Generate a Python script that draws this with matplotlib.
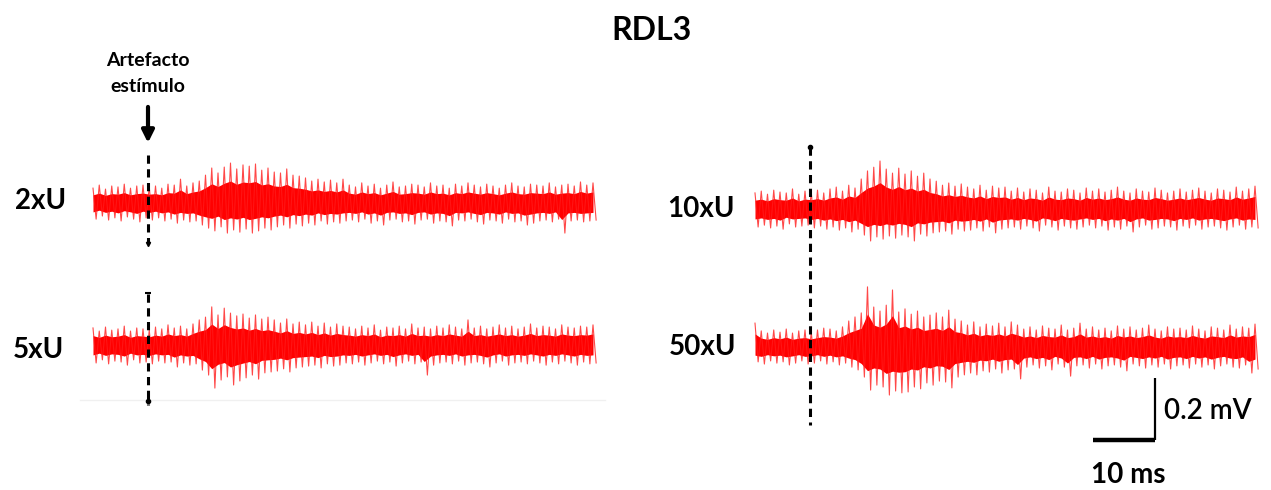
import numpy as np
import matplotlib as mpl
mpl.use('Agg')
import matplotlib.pyplot as plt

plt.rcParams['font.family'] = ['Lato', 'DejaVu Sans']

# peak (up) and trough (lo) amplitudes, in microvolts,
# one pair per ms: peaks at t = 0, 1, 2 ... ms, troughs half a ms later
t_peak = np.arange(81) * 1.0
t_trough = t_peak + 0.5
stim_ms = 8.8

up_2x = [48, 58, 45, 55, 52, 61, 48, 55, 58,
         52, 55, 48, 61, 58, 77, 55, 65,
         71, 90, 113, 97,
         116, 129, 110, 123, 119, 126, 106, 113,
         100, 97, 110, 90, 87,
         81, 71, 77, 68, 74, 65, 77,
         58, 52, 65, 55, 61, 48, 58, 68, 52, 55,
         61, 58, 52, 65, 55, 58, 48, 61, 55, 65,
         58, 52, 61, 55, 48, 58, 65, 55, 52, 61,
         58, 55, 65, 52, 58, 61, 55, 68, 58, 65]
lo_2x = [52, 42, 55, 48, 58, 45, 52, 61, 48,
         55, 48, 58, 52, 65, 55, 61, 58,
         71, 81, 90, 77,
         97, 87, 94, 84, 97, 90, 81, 87,
         77, 71, 81, 68, 74,
         65, 71, 58, 68, 61, 65, 58,
         55, 61, 52, 65, 58, 71, 55, 52, 61, 58,
         68, 55, 52, 65, 58, 61, 74, 55, 58, 52,
         61, 68, 55, 58, 65, 52, 61, 58, 71, 65,
         58, 55, 61, 52, 97, 58, 55, 61, 58, 55]

up_5x = [55, 45, 58, 48, 52, 61, 45, 55, 52,
         48, 58, 52, 65, 55, 61, 52, 68,
         81, 90, 123, 97,
         119, 103, 94, 100, 87, 97, 84, 90,
         81, 71, 84, 68, 74,
         65, 74, 61, 71, 58, 68, 61,
         58, 52, 61, 55, 65, 48, 58, 55, 61, 52,
         68, 55, 58, 52, 61, 55, 65, 58, 52, 81,
         55, 61, 52, 58, 65, 55, 61, 52, 58, 68,
         55, 61, 58, 52, 65, 58, 55, 61, 58, 65]
lo_5x = [58, 48, 61, 52, 55, 65, 48, 58, 55,
         61, 52, 58, 55, 71, 58, 65, 61,
         81, 97, 139, 113,
         103, 129, 116, 106, 97, 110, 90, 87,
         84, 77, 87, 74, 71,
         68, 65, 74, 61, 68, 65, 58,
         61, 55, 65, 58, 52, 61, 55, 68, 58, 52,
         61, 55, 97, 65, 58, 55, 61, 52, 65, 58,
         55, 61, 71, 58, 52, 65, 58, 55, 61, 52,
         58, 65, 55, 61, 52, 58, 65, 55, 61, 58]

up_10x = [52, 58, 48, 61, 55, 52, 65, 48, 58,
          55, 61, 52, 65, 71, 58, 77, 68,
          97, 123, 135, 155,
          129, 116, 132, 113, 123, 106, 116, 97,
          90, 77, 84, 74, 81,
          71, 65, 77, 61, 74, 68, 71,
          58, 68, 55, 65, 61, 52, 71, 58, 55, 65,
          61, 52, 68, 58, 65, 55, 61, 71, 58, 52,
          65, 58, 55, 68, 61, 52, 58, 65, 55, 61,
          68, 58, 52, 65, 61, 55, 71, 58, 65, 74]
lo_10x = [58, 52, 61, 55, 65, 48, 58, 55, 52,
          61, 55, 65, 58, 68, 61, 74, 65,
          84, 103, 90, 97,
          87, 94, 84, 90, 103, 81, 87, 77,
          74, 71, 81, 65, 71,
          68, 61, 71, 58, 77, 65, 61,
          58, 65, 55, 61, 71, 52, 58, 68, 55, 61,
          65, 58, 52, 61, 55, 68, 58, 65, 55, 74,
          58, 52, 65, 61, 55, 58, 68, 55, 61, 52,
          65, 58, 55, 61, 68, 58, 52, 65, 58, 61]

up_50x = [77, 52, 45, 55, 48, 58, 45, 52, 55,
          48, 55, 61, 58, 52, 65, 84, 97,
          110, 194, 129, 116,
          135, 184, 113, 123, 106, 116, 97, 103,
          110, 97, 119, 90, 84,
          71, 81, 65, 74, 68, 77, 65,
          81, 71, 58, 65, 55, 68, 61, 58, 71, 55,
          61, 77, 58, 65, 55, 61, 52, 68, 58, 65,
          55, 61, 71, 58, 52, 65, 58, 61, 55, 68,
          58, 52, 65, 61, 55, 71, 58, 65, 61, 74]
lo_50x = [48, 55, 45, 52, 48, 58, 52, 45, 55,
          52, 45, 55, 48, 58, 52, 65, 74,
          97, 139, 123, 129,
          155, 142, 148, 145, 129, 135, 116, 123,
          110, 113, 132, 97, 90,
          84, 90, 77, 81, 71, 84, 74,
          71, 103, 65, 58, 68, 61, 74, 55, 65, 94,
          61, 58, 68, 55, 71, 61, 58, 65, 77, 55,
          61, 68, 58, 65, 55, 71, 61, 58, 68, 55,
          65, 58, 71, 61, 55, 65, 68, 58, 84, 71]

# baseline of the upper trace of each panel (mV above the lower one)
offset_left = 0.458
offset_right = 0.445

W, H = 1271, 490
PX_MS = 6.25     # pixels per ms
PX_MV = 310.0    # pixels per mV


def make_axes(fig, x0, x1, ytop, ybot, xorig, yorig):
    ax = fig.add_axes([x0 / W, (H - ybot) / H, (x1 - x0) / W, (ybot - ytop) / H])
    ax.set_xlim((x0 - xorig) / PX_MS, (x1 - xorig) / PX_MS)
    ax.set_ylim((yorig - ybot) / PX_MV, (yorig - ytop) / PX_MV)
    ax.axis('off')
    return ax


def draw_trace(ax, up, lo, offset):
    up = np.array(up) / 1000.0
    lo = np.array(lo) / 1000.0
    t = np.empty(2 * len(up))
    v = np.empty(2 * len(up))
    t[0::2], t[1::2] = t_peak, t_trough
    v[0::2], v[1::2] = offset + up, offset - lo
    ax.fill_between(t_peak, offset + 0.55 * up, offset - 0.55 * lo,
                    color='#ff0000', lw=0)
    ax.plot(t, v, color='#ff1a1a', lw=0.8, alpha=0.8)


fig = plt.figure(figsize=(W / 100, H / 100), dpi=100)

axl = make_axes(fig, 60, 620, 100, 430, 93, 345)
axr = make_axes(fig, 700, 1271, 100, 480, 755, 347)

# faint baseline under the lower left trace
axl.plot([-2.1, 81.9], [-0.177, -0.177], color='#f0f0f0', lw=1)

draw_trace(axl, up_2x, lo_2x, offset_left)
draw_trace(axl, up_5x, lo_5x, 0.0)
draw_trace(axr, up_10x, lo_10x, offset_right)
draw_trace(axr, up_50x, lo_50x, 0.0)

# stimulus artefact markers
dash = dict(color='black', lw=2.2, dashes=(2.7, 1.8), solid_capstyle='butt')
axl.plot([stim_ms, stim_ms], [0.613, 0.327], **dash)
axl.plot([stim_ms], [0.327], marker='v', color='black', ms=3)
axl.plot([stim_ms, stim_ms], [0.165, -0.194], **dash)
axl.plot([stim_ms], [0.168], marker='_', color='black', ms=5, mew=1.5)
axl.plot([stim_ms], [-0.18], marker='o', color='black', ms=3)
axr.plot([stim_ms, stim_ms], [0.645, -0.252], **dash)
axr.plot([stim_ms], [0.645], marker='o', color='black', ms=3)

axl.annotate('', xy=(stim_ms, 0.652), xytext=(stim_ms, 0.768),
             arrowprops=dict(arrowstyle='-|>', lw=3.0, color='black',
                             mutation_scale=18, shrinkA=0, shrinkB=0))

# scale bar: 10 ms x 0.2 mV
axr.plot([64, 64], [-0.30, -0.10], color='black', lw=1.6, solid_capstyle='butt')
axr.plot([54, 64], [-0.30, -0.30], color='black', lw=3.2, solid_capstyle='butt')

fig.text(652 / W, 1 - 30 / H, 'RDL3', ha='center', va='center',
         fontsize=23, fontweight='bold')
fig.text(148 / W, 1 - 60 / H, 'Artefacto', ha='center', va='center',
         fontsize=14, fontweight='bold')
fig.text(148 / W, 1 - 86 / H, 'estímulo', ha='center', va='center',
         fontsize=14, fontweight='bold')

for label, x, y in [('2xU', 41, 201), ('5xU', 38, 350),
                    ('10xU', 701, 209), ('50xU', 703, 347)]:
    fig.text(x / W, 1 - y / H, label, ha='center', va='center',
             fontsize=20, fontweight='bold')

fig.text(1164 / W, 1 - 411 / H, '0.2 mV', ha='left', va='center',
         fontsize=20, fontweight='semibold')
fig.text(1128 / W, 1 - 475 / H, '10 ms', ha='center', va='center',
         fontsize=20, fontweight='bold')

fig.savefig('out.png', dpi=100)
